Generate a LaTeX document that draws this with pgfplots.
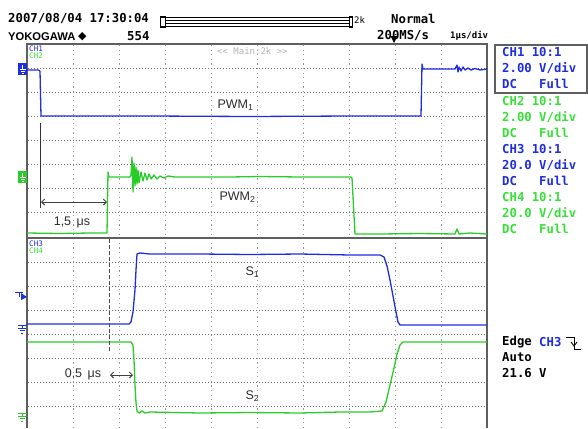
\documentclass[border=0pt]{standalone}
\usepackage{pgfplots}
\pgfplotsset{compat=1.18}
\usetikzlibrary{arrows.meta}
\usepackage{fontspec}
\setmainfont{Liberation Sans}
\newfontfamily\scopefont{DejaVu Sans Mono}
\newfontfamily\dv{DejaVu Sans}
\definecolor{cblue}{RGB}{30,45,225}
\definecolor{cgreen}{RGB}{40,205,40}
\definecolor{tgreen}{RGB}{55,225,55}
\definecolor{framec}{RGB}{95,95,95}
\definecolor{gridc}{RGB}{110,110,110}
\definecolor{labc}{RGB}{45,45,45}
\begin{document}
\begin{tikzpicture}
\begin{axis}[scale only axis, width=588pt, height=428pt,
  xmin=0, xmax=588, ymin=0, ymax=428, y dir=reverse,
  axis lines=none, ticks=none, clip=false]
\path (0,0) rectangle (588,428);
% grid
\pgfplotsinvokeforeach{73,119,165,211,257,303,349,395,441}{
  \draw[black!40, line width=1pt, dash pattern=on 1.2pt off 3.4pt] (#1,45)--(#1,428);
}
\pgfplotsinvokeforeach{68.1,92.2,116.4,140.5,164.6,188.8,212.9,262,286,310,334,358,382,406}{
  \draw[gridc, line width=0.9pt, dash pattern=on 0.9pt off 2.1pt] (28,#1)--(486,#1);
}
% frame
\draw[framec, line width=1.6pt] (27,428)--(27,44)--(487,44)--(487,428);
\draw[framec, line width=1.4pt] (27,238)--(487,238);
% traces
\addplot[cblue, line width=1.3pt, line join=round] coordinates {
(27,70) (38,70) (40,71) (41,116) (80,116) (150,116) (250,116.5) (350,116) (421,116)
(422,64) (423,69) (440,69) (455,69) (457,65) (458,72) (459,67) (461,71) (463,67)
(465,70) (468,68) (471,70) (475,68.5) (480,70) (487,69)};
\addplot[cgreen, line width=1.3pt, line join=round] coordinates {
(27,233) (60,233.5) (90,233) (107,233) (108,172) (109,177) (130,177) (131,175)
(132,157) (133,192) (134,163) (135,186) (136,167) (137,184) (138,170) (139,183)
(141,172) (143,181) (145,173) (147,180) (149,174) (151,179) (154,175) (157,179)
(160,176) (164,178) (168,176) (175,177) (190,177) (230,177) (260,176.5) (300,177)
(351,177) (352,178) (355,234) (380,234) (420,233.5) (455,234) (457,229) (459,234)
(470,233) (487,234)};
\addplot[cblue, line width=1.3pt, line join=round] coordinates {
(27,324) (80,324) (129,324) (131,322) (133,312) (135,290) (136,270) (137,254)
(140,253) (150,254) (200,254) (250,254.5) (300,254) (350,255) (380,255) (384,257)
(387,266) (390,280) (393,296) (396,312) (398,322) (400,325) (420,325) (487,325)};
\addplot[cgreen, line width=1.3pt, line join=round] coordinates {
(27,342) (80,342) (131,342) (133,345) (134,360) (135,385) (136,403) (137,411)
(139,413) (142,411) (145,413) (150,412) (200,413) (250,412.5) (300,413) (340,412)
(370,412) (382,411) (386,402) (390,385) (394,368) (397,354) (400,345) (403,342)
(440,342) (487,342)};
% measurement marks
\draw[black!80, line width=0.9pt] (40,123)--(40,208);
\draw[black!75, line width=0.9pt, {Straight Barb[length=3pt,width=6pt]}-{Straight Barb[length=3pt,width=6pt]}] (41,202)--(107,202);
\node[text=labc, font=\fontsize{12.5}{12}\selectfont] at (72,222) {1,5 \,μs};
\draw[black!70, line width=1pt, dash pattern=on 4pt off 2pt] (109,239)--(109,352);
\draw[black!75, line width=0.9pt, {Straight Barb[length=3pt,width=6pt]}-{Straight Barb[length=3pt,width=6pt]}] (110,375)--(133,375);
\node[text=labc, font=\fontsize{12.5}{12}\selectfont] at (83,374) {0,5 \,μs};
% signal labels
\node[text=labc, anchor=west, font=\fontsize{12.5}{12}\selectfont] at (214,105) {PWM\textsubscript{1}};
\node[text=labc, anchor=west, font=\fontsize{12.5}{12}\selectfont] at (216,197) {PWM\textsubscript{2}};
\node[text=labc, anchor=west, font=\fontsize{12.5}{12}\selectfont] at (242,272) {S\textsubscript{1}};
\node[text=labc, anchor=west, font=\fontsize{12.5}{12}\selectfont] at (242,396) {S\textsubscript{2}};
% channel markers
\fill[cblue] (18,63) rectangle (27,75);
\draw[white, line width=0.7pt] (22.5,65)--(22.5,69) (19.5,69)--(25.5,69) (20.5,71)--(24.5,71) (21.5,73)--(23.5,73);
\fill[cgreen] (18,171) rectangle (27,183);
\draw[white, line width=0.7pt] (22.5,173)--(22.5,177) (19.5,177)--(25.5,177) (20.5,179)--(24.5,179) (21.5,181)--(23.5,181);
\draw[cblue, line width=1pt] (15,292.5)--(23,292.5) (19,292.5)--(19,297);
\fill[cblue] (21,293)--(27,297)--(21,300)--cycle;
\draw[cblue, line width=0.9pt] (18,325)--(27,325) (22,325)--(22,328) (18,328)--(26,328) (19.5,330.5)--(24.5,330.5) (21,333)--(23,333);
\draw[cgreen, line width=0.9pt] (18,413)--(27,413) (22,413)--(22,416) (18,416)--(26,416) (19.5,418.5)--(24.5,418.5) (21,421)--(23,421);
% in-screen labels
\node[anchor=west, inner sep=0pt, text=cblue, font=\scopefont\fontsize{7.6}{8}\selectfont] at (29,48.5) {CH1};
\node[anchor=west, inner sep=0pt, text=tgreen, font=\scopefont\fontsize{7.6}{8}\selectfont] at (29,55.5) {CH2};
\node[anchor=west, inner sep=0pt, text=cblue, font=\scopefont\fontsize{7.6}{8}\selectfont] at (29,243.5) {CH3};
\node[anchor=west, inner sep=0pt, text=tgreen, font=\scopefont\fontsize{7.6}{8}\selectfont] at (29,250.5) {CH4};
\node[anchor=west, inner sep=0pt, text=black!30, font=\scopefont\fontsize{9}{9}\selectfont] at (217,51) {<< Main:2k >>};
% header
\node[anchor=west, inner sep=0pt, font=\scopefont\bfseries\fontsize{12.3}{12}\selectfont] at (8,19) {2007/08/04 17:30:04};
\node[anchor=west, inner sep=0pt, font=\bfseries\fontsize{11.2}{11}\selectfont] at (8,37) {YOKOGAWA};
\node[anchor=west, inner sep=0pt, font=\dv\fontsize{11}{11}\selectfont] at (78,37) {◆};
\node[anchor=west, inner sep=0pt, font=\scopefont\bfseries\fontsize{12.3}{12}\selectfont] at (127,36) {554};
\draw[black, line width=0.8pt] (160,17) rectangle (352,26);
\draw[black, line width=0.7pt] (165,20.5)--(349,20.5) (165,23)--(349,23);
\draw[black, line width=0.8pt] (160,16) rectangle (165,27);
\draw[black, line width=0.8pt] (349,16) rectangle (352,27);
\node[anchor=west, inner sep=0pt, font=\scopefont\fontsize{9}{9}\selectfont] at (354,20.5) {2k};
\node[anchor=west, inner sep=0pt, font=\scopefont\bfseries\fontsize{12.3}{12}\selectfont] at (391,19) {Normal};
\node[anchor=west, inner sep=0pt, font=\scopefont\bfseries\fontsize{12.3}{12}\selectfont] at (377,36) {200MS/s};
\fill[black] (390.5,36)--(397.5,36)--(394,43)--cycle;
\node[anchor=west, inner sep=0pt, font=\scopefont\bfseries\fontsize{9}{9}\selectfont] at (450,36) {1μs/div};
% right panel
\draw[framec, line width=1.2pt] (495,45) rectangle (587,93);
\begin{scope}[every node/.style={anchor=west, inner sep=0pt, font=\scopefont\bfseries\fontsize{12.3}{12}\selectfont}]
\node[text=cblue] at (502,52) {CH1 10:1};
\node[text=cblue] at (502,68) {2.00 V/div};
\node[text=cblue] at (502,83.5) {DC\ \ \ Full};
\node[text=tgreen] at (502,101) {CH2 10:1};
\node[text=tgreen] at (502,117) {2.00 V/div};
\node[text=tgreen] at (502,132.5) {DC\ \ \ Full};
\node[text=cblue] at (502,149) {CH3 10:1};
\node[text=cblue] at (502,165) {20.0 V/div};
\node[text=cblue] at (502,180.5) {DC\ \ \ Full};
\node[text=tgreen] at (502,197) {CH4 10:1};
\node[text=tgreen] at (502,213) {20.0 V/div};
\node[text=tgreen] at (502,228.5) {DC\ \ \ Full};
\node[text=black] at (502,342) {Edge};
\node[text=cblue] at (539,342) {CH3};
\node[text=black] at (502,357.5) {Auto};
\node[text=black] at (502,373) {21.6 V};
\end{scope}
\draw[black, line width=0.9pt] (566,337)--(574,337)--(574,349)--(581,349);
\draw[black, line width=0.9pt] (571,342)--(574,346)--(577,342);
\end{axis}
\end{tikzpicture}
\end{document}
